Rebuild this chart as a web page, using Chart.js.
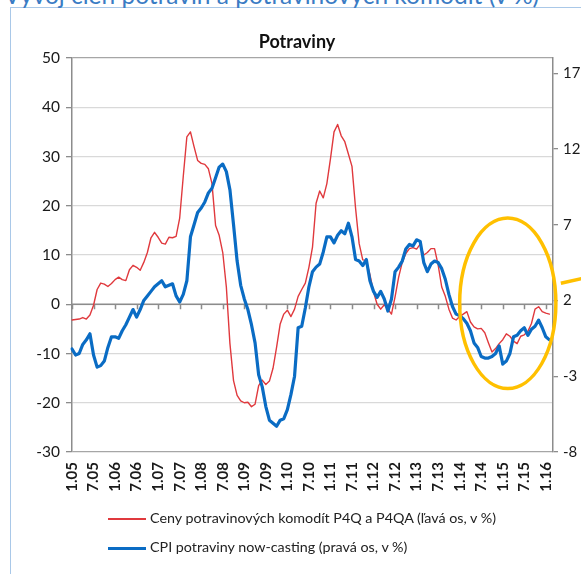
<!DOCTYPE html>
<html><head><meta charset="utf-8">
<script src="https://cdn.jsdelivr.net/npm/chart.js@4.4.1/dist/chart.umd.min.js"></script>
<style>
html,body{margin:0;padding:0;background:#fff;width:581px;height:574px;overflow:hidden;font-family:Lato,sans-serif}
#frame{position:absolute;left:9.5px;top:6.5px;width:620px;height:620px;border-left:1.5px solid #a9c8e8;border-top:1.5px solid #a9c8e8}
#head{position:absolute;left:4px;top:-17px;white-space:nowrap;font-size:24.5px;line-height:24.5px;color:#3a7cc4}
#wrap{position:absolute;left:0;top:0;width:581px;height:574px}
.leg{position:absolute;left:108px;font-size:14.3px;line-height:18px;color:#222;white-space:nowrap}
.leg span{display:inline-block;width:38px;vertical-align:middle;margin-right:4px}
</style></head><body>
<div id="frame"></div>
<div id="head">Vývoj cien potravín a potravinových komodít (v %)</div>
<div id="wrap"><canvas id="c" width="581" height="574"></canvas></div>
<div class="leg" style="top:509px"><span style="border-top:2px solid #e0393d"></span>Ceny potravinových komodít P4Q a P4QA (ľavá os, v %)</div>
<div class="leg" style="top:538px"><span style="border-top:3.5px solid #0a6cc4"></span>CPI potraviny now-casting (pravá os, v %)</div>
<script>
// Monthly categories Jan 2005 .. Mar 2016
const categories = [];
for (let yr = 5; yr <= 16; yr++) {
  for (let m = 1; m <= 12; m++) {
    if (yr === 16 && m > 3) break;
    categories.push(m + '.' + String(yr).padStart(2, '0'));
  }
}
const xTickLabels = ['1.05','7.05','1.06','7.06','1.07','7.07','1.08','7.08','1.09','7.09','1.10','7.10','1.11','7.11','1.12','7.12','1.13','7.13','1.14','7.14','1.15','7.15','1.16'];
const leftTicks = [-30,-20,-10,0,10,20,30,40,50];
const rightTicks = [-8,-3,2,7,12,17];

const commodityPrices = [
 -3.2,-3.1,-3.0,-2.7,-3.0,-2.2,-0.2,3.0,4.3,4.1,
 3.6,4.2,5.0,5.5,5.0,4.8,7.0,7.9,7.5,6.9,
 8.5,10.5,13.5,14.6,13.6,12.4,12.2,13.6,13.5,13.8,
 17.5,26.0,34.0,35.0,32.0,29.2,28.6,28.4,27.5,24.5,
 16.0,14.0,10.5,3.5,-8.0,-15.5,-18.5,-19.6,-20.0,-19.9,
 -20.8,-20.3,-16.5,-15.4,-16.3,-15.6,-13.0,-8.7,-4.0,-2.0,
 -1.2,-2.5,-1.0,1.6,3.0,4.3,7.5,11.6,20.5,23.0,
 21.6,24.5,29.5,35.0,36.5,34.2,33.0,30.5,28.0,19.5,
 12.3,9.0,8.9,6.0,2.5,0.0,-1.0,-0.1,-1.0,-2.0,
 1.5,5.5,8.5,10.3,11.3,11.5,11.2,12.2,10.0,10.5,
 11.3,11.3,8.0,3.5,1.6,-1.0,-2.8,-3.2,-2.5,-2.0,
 -1.5,-3.6,-4.6,-5.0,-4.9,-5.8,-7.8,-9.7,-9.0,-8.0,
 -7.2,-6.0,-6.5,-7.5,-8.0,-6.5,-6.2,-5.5,-3.9,-1.0,
 -0.5,-1.5,-1.8,-2.0
];
const cpiNowcast = [
 -1.2,-1.6,-1.5,-0.9,-0.6,-0.2,-1.6,-2.4,-2.3,-2.0,
 -1.1,-0.4,-0.4,-0.5,0.0,0.4,0.9,1.4,0.9,1.4,
 2.0,2.3,2.6,2.9,3.1,3.3,2.9,3.0,3.1,2.3,
 1.9,2.4,3.3,6.2,7.0,7.8,8.1,8.5,9.1,9.4,
 10.1,10.8,11.0,10.5,9.3,7.0,4.6,3.0,2.1,1.4,
 0.4,-0.8,-2.9,-3.7,-5.0,-5.9,-6.1,-6.3,-5.9,-5.8,
 -5.2,-4.2,-3.0,0.2,0.3,1.5,2.9,3.9,4.2,4.4,
 5.2,6.2,6.2,5.8,6.3,6.6,6.4,7.1,6.2,4.7,
 4.6,4.3,4.7,3.3,2.6,2.2,2.6,2.1,1.3,2.1,
 3.9,4.2,4.6,5.4,5.7,5.6,6.0,5.9,4.5,3.9,
 4.4,4.6,4.5,4.1,3.4,2.4,1.6,1.1,1.0,0.8,
 0.5,0.0,-0.8,-1.1,-1.7,-1.8,-1.8,-1.7,-1.5,-1.0,
 -2.2,-2.0,-1.5,-0.4,-0.3,0.0,0.2,-0.3,0.1,0.3,
 0.7,0.2,-0.4,-0.6
];
// highlighted region (annotation): centre month index, centre value, half-widths
const focus = { centre: 121.4, value: 0.2, halfMonths: 13.4, halfValue: 17.3 };

const axisGray = '#8c8c8c';
const fontFamily = 'Lato, sans-serif';

const zeroLine = {
  id: 'zeroLine',
  beforeDatasetsDraw(chart) {
    const { ctx, chartArea } = chart;
    const x = chart.scales.x, y = chart.scales.y;
    const y0 = y.getPixelForValue(0);
    ctx.save();
    ctx.strokeStyle = axisGray;
    ctx.lineWidth = 1.5;
    ctx.beginPath();
    ctx.moveTo(chartArea.left, y0);
    ctx.lineTo(chartArea.right, y0);
    x.ticks.forEach(t => {
      const px = Math.round(x.getPixelForValue(t.value)) + 0.5;
      ctx.moveTo(px, y0);
      ctx.lineTo(px, y0 + 5);
    });
    ctx.stroke();
    ctx.restore();
  }
};
const ellipse = {
  id: 'ellipse',
  afterDraw(chart) {
    const { ctx } = chart;
    const x = chart.scales.x, y = chart.scales.y;
    const cx = x.getPixelForValue(focus.centre);
    const cy = y.getPixelForValue(focus.value);
    const rx = x.getPixelForValue(focus.centre + focus.halfMonths) - cx;
    const ry = y.getPixelForValue(focus.value - focus.halfValue) - cy;
    ctx.save();
    ctx.strokeStyle = '#ffc000';
    ctx.lineWidth = 3.5;
    ctx.beginPath();
    ctx.ellipse(cx, cy, rx, ry, 0, 0, Math.PI * 2);
    ctx.stroke();
    ctx.beginPath();
    ctx.moveTo(cx + rx + 5, cy - 20);
    ctx.lineTo(chart.width + 2, cy - 25);
    ctx.stroke();
    ctx.restore();
  }
};

new Chart(document.getElementById('c'), {
  type: 'line',
  data: {
    labels: categories,
    datasets: [
      { label: 'Ceny potravinových komodít P4Q a P4QA (ľavá os, v %)', data: commodityPrices,
        borderColor: '#e0393d', borderWidth: 1.4, yAxisID: 'y', order: 2 },
      { label: 'CPI potraviny now-casting (pravá os, v %)', data: cpiNowcast,
        borderColor: '#0a6cc4', borderWidth: 3.2, yAxisID: 'y1', order: 1 }
    ]
  },
  options: {
    responsive: false,
    animation: false,
    events: [],
    elements: { point: { radius: 0 }, line: { tension: 0, borderCapStyle: 'round', borderJoinStyle: 'round' } },
    layout: { padding: { left: 13, right: 0, top: 0, bottom: 0 } },
    plugins: {
      legend: { display: false },
      tooltip: { enabled: false },
      title: { display: true, text: 'Potraviny', color: '#111',
        font: { family: fontFamily, size: 18, weight: 'bold' },
        padding: { top: 31.2, bottom: 5.2 } }
    },
    scales: {
      x: {
        type: 'category',
        offset: false,
        grid: { display: false, drawTicks: false },
        border: { display: false },
        afterBuildTicks(scale) {
          scale.ticks = scale.ticks.filter(t => xTickLabels.includes(categories[t.value]));
        },
        afterFit(scale) { scale.height = 122; },
        ticks: { autoSkip: false, minRotation: 90, maxRotation: 90, padding: 10,
          color: '#1a1a1a', font: { family: fontFamily, size: 15, weight: 'bold' } }
      },
      y: {
        position: 'left',
        min: -30, max: 50,
        afterBuildTicks(scale) { scale.ticks = leftTicks.map(v => ({ value: v })); },
        afterFit(scale) { scale.width = 59; },
        grid: { color: ctx => (ctx.tick && (ctx.tick.value === 50 || ctx.tick.value === -30)) ? '#a6a6a6' : '#d9d9d9',
          lineWidth: 1.3, tickColor: axisGray, tickLength: 6 },
        border: { color: axisGray, width: 1.5 },
        ticks: { padding: 6, color: '#1a1a1a', font: { family: fontFamily, size: 15.5 } }
      },
      y1: {
        position: 'right',
        min: -8, max: 18,
        afterBuildTicks(scale) { scale.ticks = rightTicks.map(v => ({ value: v })); },
        afterFit(scale) { scale.width = 28; },
        grid: { drawOnChartArea: false, tickColor: axisGray, tickLength: 5, lineWidth: 1.3 },
        border: { color: axisGray, width: 1.5 },
        ticks: { padding: 5, color: '#1a1a1a', font: { family: fontFamily, size: 15 } }
      }
    }
  },
  plugins: [zeroLine, ellipse]
});
</script>
</body></html>
